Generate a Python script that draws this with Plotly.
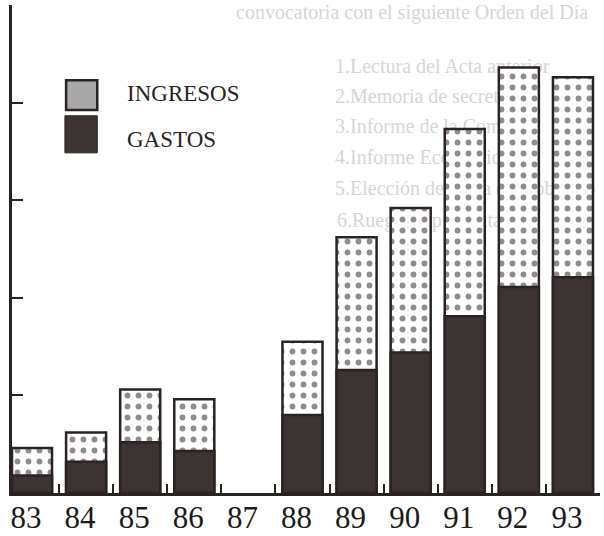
import plotly.graph_objects as go

# ---- data (arbitrary units; axis has no value labels)
years = ["83", "84", "85", "86", "87", "88", "89", "90", "91", "92", "93"]
ingresos = [0.46, 0.62, 1.06, 0.96, None, 1.55, 2.62, 2.92, 3.73, 4.36, 4.26]
gastos = [0.18, 0.32, 0.52, 0.43, None, 0.80, 1.26, 1.44, 1.81, 2.11, 2.21]

legend_labels = ["INGRESOS", "GASTOS"]

# faint text showing through from the other side of the page
ghost_lines = [
    "convocatoria con el siguiente Orden del Día",
    "1.Lectura del Acta anterior",
    "2.Memoria de secretaría.",
    "3.Informe de la Comisión",
    "4.Informe Económico",
    "5.Elección de Junta de Gobierno",
    "6.Ruegos y preguntas.",
]

INK = "#2a2321"
DARK = "#3c3432"
GHOST = "#d6d6d6"

fig = go.Figure()

# ghost text on the base (hidden) subplot so the bars are drawn above it
ghost_x = [236, 335, 335, 335, 335, 335, 337]
ghost_y = [14, 68, 98, 128, 159, 190, 222]
fig.add_trace(go.Scatter(
    x=ghost_x, y=ghost_y, text=ghost_lines, mode="text",
    textposition="middle right", cliponaxis=False,
    textfont=dict(family="Liberation Serif", size=20, color=GHOST),
    hoverinfo="skip", showlegend=False, xaxis="x", yaxis="y",
))

fig.add_trace(go.Bar(
    x=years, y=ingresos, name=legend_labels[0], width=0.74,
    marker=dict(color="white", line=dict(color=INK, width=2.5),
                pattern=dict(shape=".", size=11, solidity=0.22,
                             fgcolor="#1e1a1a", bgcolor="white", fillmode="overlay")),
    xaxis="x2", yaxis="y2", showlegend=False,
))
fig.add_trace(go.Bar(
    x=years, y=gastos, name=legend_labels[1], width=0.74,
    marker=dict(color=DARK, line=dict(color=INK, width=2.5)),
    xaxis="x2", yaxis="y2", showlegend=False,
))

# legend drawn by hand (large swatches like the original)
fig.add_shape(type="rect", xref="paper", yref="paper",
              x0=0.092, x1=0.145, y0=0.785, y1=0.846,
              fillcolor="#a9a9a9", line=dict(color=INK, width=2.5))
fig.add_shape(type="rect", xref="paper", yref="paper",
              x0=0.090, x1=0.145, y0=0.697, y1=0.773,
              fillcolor=DARK, line=dict(color=INK, width=1))
fig.add_annotation(text=legend_labels[0], xref="paper", yref="paper",
                   x=0.193, y=0.818, xanchor="left", yanchor="middle",
                   showarrow=False,
                   font=dict(family="Liberation Serif", size=23, color=INK))
fig.add_annotation(text=legend_labels[1], xref="paper", yref="paper",
                   x=0.193, y=0.725, xanchor="left", yanchor="middle",
                   showarrow=False,
                   font=dict(family="Liberation Serif", size=23, color=INK))

fig.update_layout(
    width=604, height=536,
    margin=dict(l=12, r=4, t=5, b=43),
    paper_bgcolor="white", plot_bgcolor="rgba(0,0,0,0)",
    barmode="overlay", bargap=0.26,
    showlegend=False,
    xaxis=dict(range=[12, 600], visible=False, fixedrange=True, automargin=False),
    yaxis=dict(range=[493, 5], visible=False, fixedrange=True, automargin=False),
    xaxis2=dict(
        overlaying="x", type="category", range=[-0.37, 10.5],
        showline=True, linecolor=INK, linewidth=3,
        ticks="inside", tickson="boundaries", ticklen=9, tickwidth=2,
        tickcolor=INK, showgrid=False, zeroline=False,
        ticklabelstandoff=-5, ticklabelshift=-6, automargin=False,
        tickfont=dict(family="Liberation Serif", size=31, color="#1e1a1a"),
    ),
    yaxis2=dict(
        overlaying="y", range=[0, 5], dtick=1, tick0=0,
        showline=True, linecolor=INK, linewidth=3,
        ticks="inside", ticklen=11, tickwidth=2, tickcolor=INK,
        showticklabels=False, showgrid=False, zeroline=False, automargin=False,
    ),
)

fig.write_html("out.html", config={"displayModeBar": False},
               post_script="document.body.style.margin='0';document.body.style.overflow='hidden';")
